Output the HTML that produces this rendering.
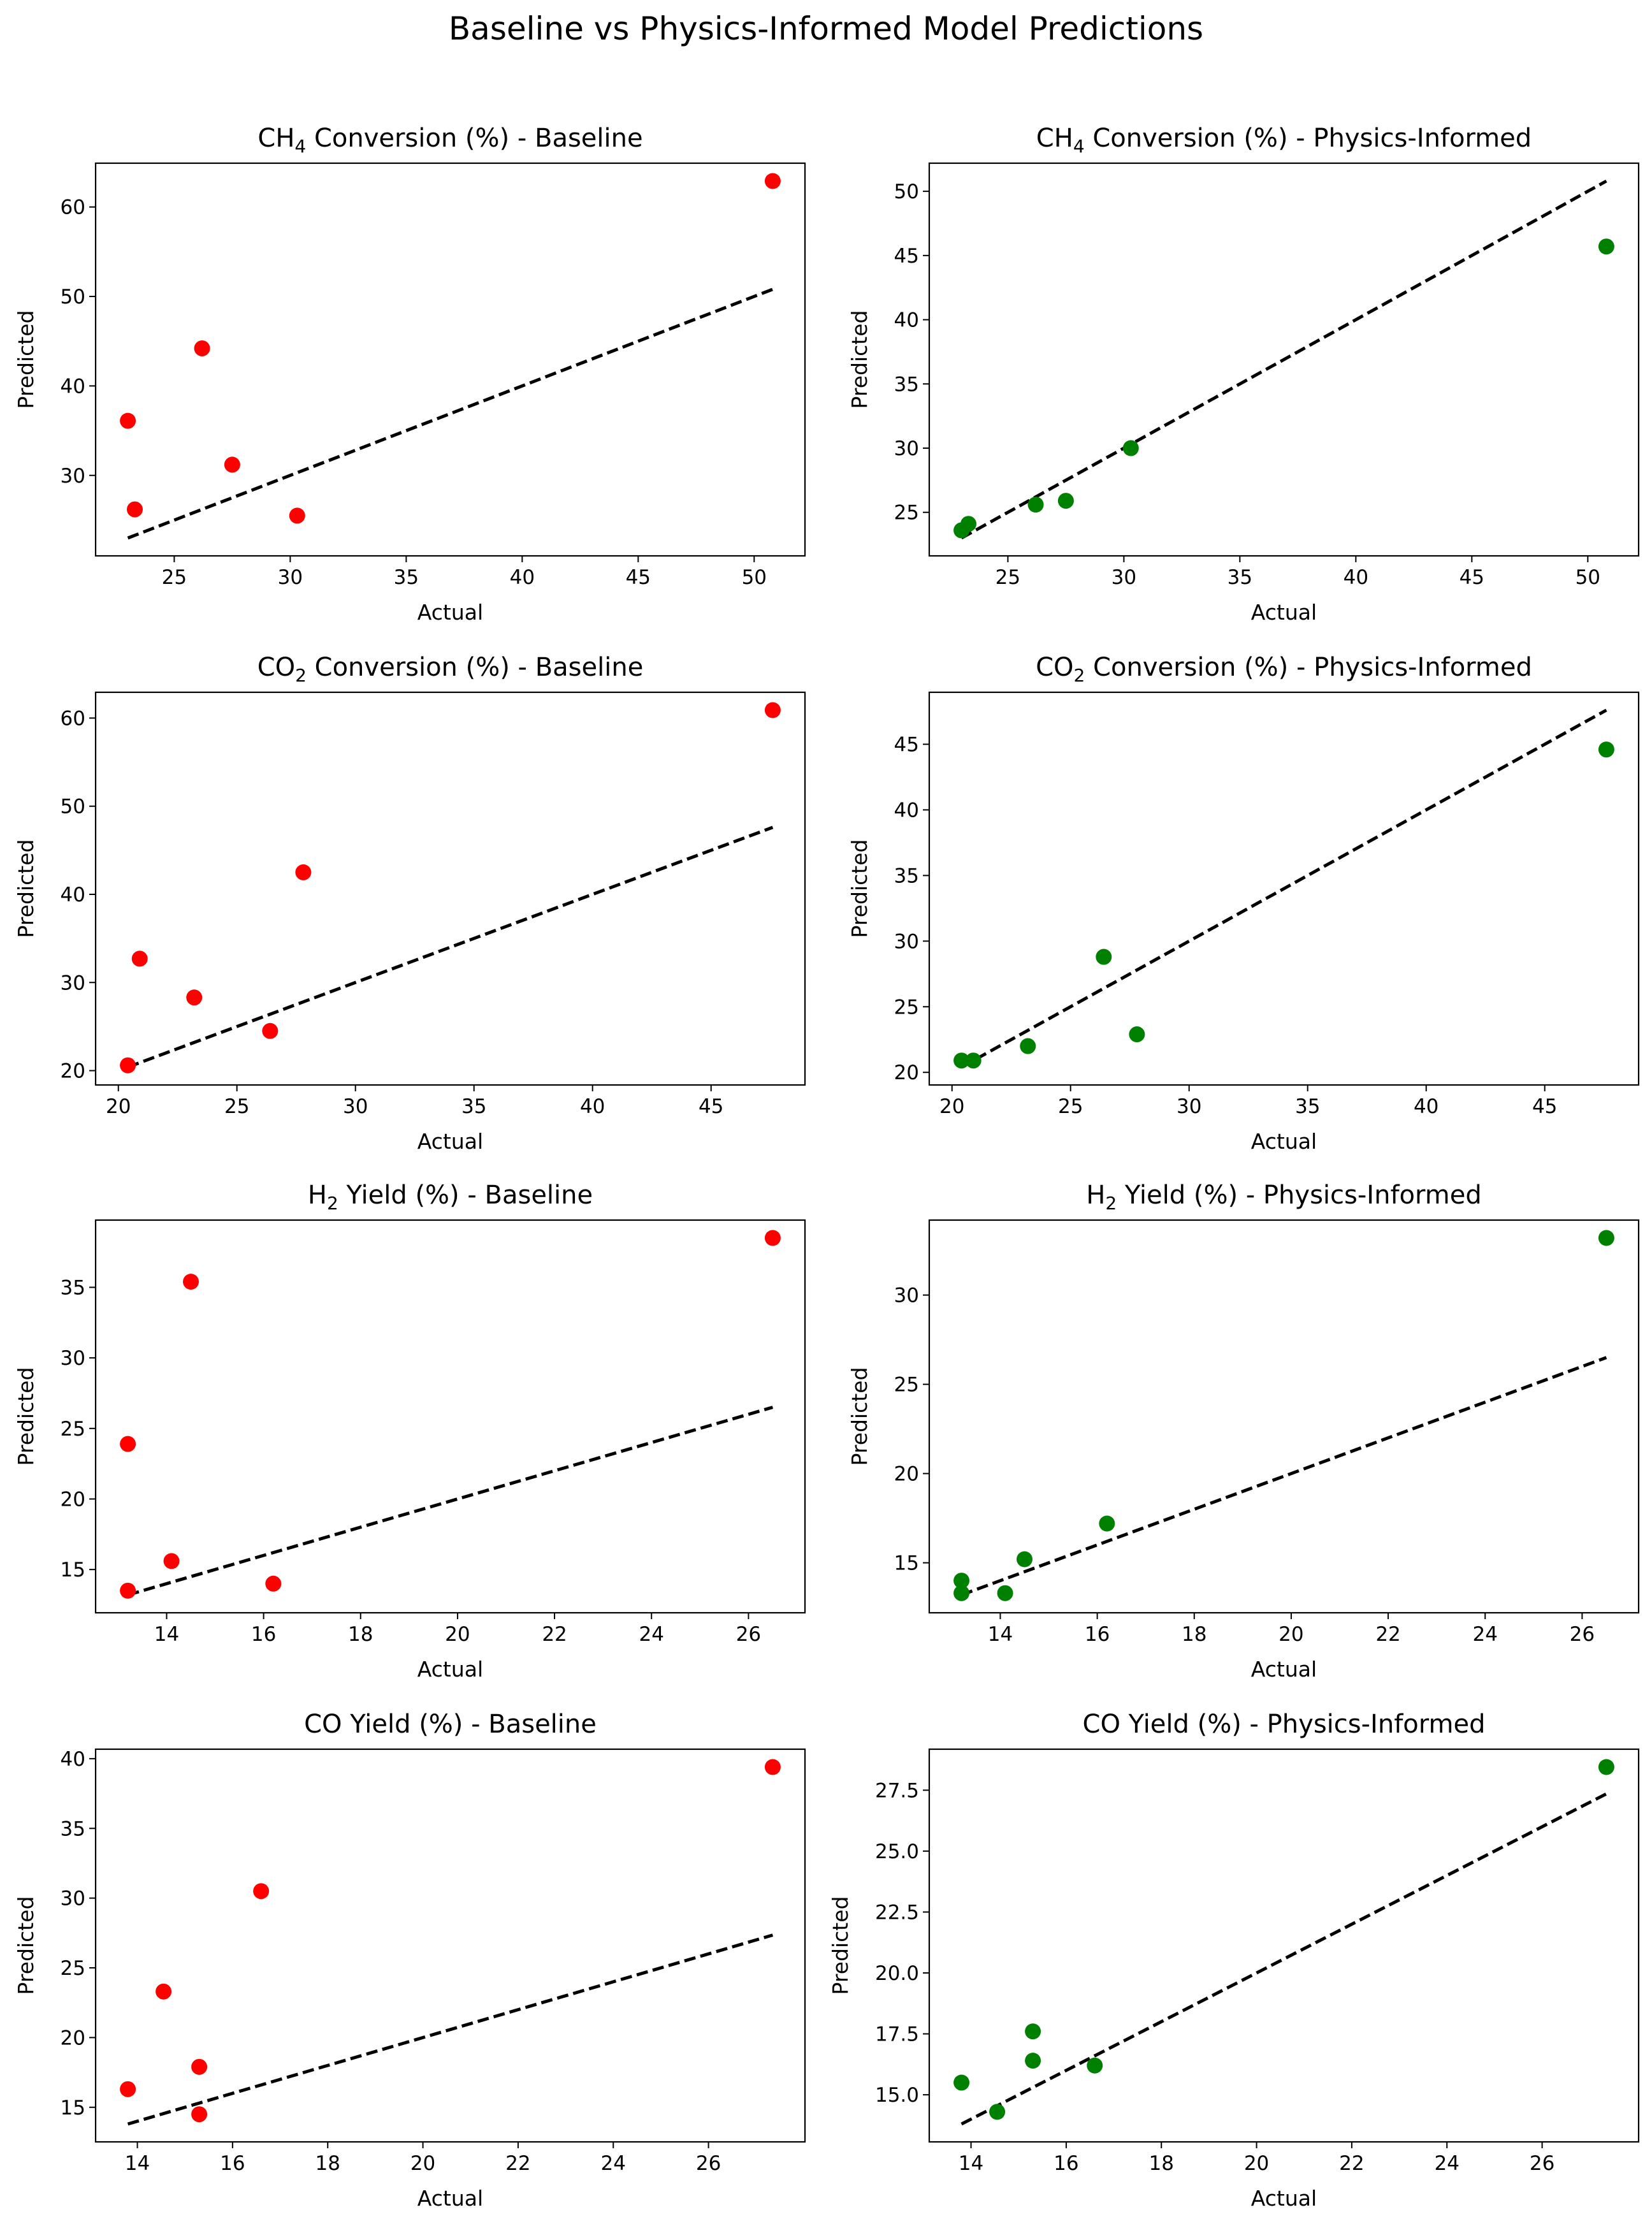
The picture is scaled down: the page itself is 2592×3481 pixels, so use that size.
<!DOCTYPE html>
<html><head><meta charset="utf-8"><style>
html,body{margin:0;padding:0;background:#fff;}
svg{display:block;font-family:"DejaVu Sans","Liberation Sans",sans-serif;}
</style></head><body>
<svg id="fig" xmlns="http://www.w3.org/2000/svg" width="2592" height="3481" viewBox="0 0 2592 3481">
<rect x="0" y="0" width="2592" height="3481" fill="#fff"/>
<text x="1296" y="62" font-size="50" text-anchor="middle" fill="#000">Baseline vs Physics-Informed Model Predictions</text>
</svg>
<script>
const actualCH4 = [23.0, 23.3, 26.2, 27.5, 30.3, 50.8];
const baseCH4 = [36.1, 26.2, 44.2, 31.2, 25.5, 62.9];
const physCH4 = [23.6, 24.1, 25.6, 25.9, 30.0, 45.7];
const actualCO2 = [20.4, 20.9, 23.2, 26.4, 27.8, 47.6];
const baseCO2 = [20.6, 32.7, 28.3, 24.5, 42.5, 60.9];
const physCO2 = [20.9, 20.9, 22.0, 28.8, 22.9, 44.6];
const actualH2 = [13.2, 13.2, 14.1, 14.5, 16.2, 26.5];
const baseH2 = [13.5, 23.9, 15.6, 35.4, 14.0, 38.5];
const physH2 = [13.3, 14.0, 13.3, 15.2, 17.2, 33.2];
const actualCO = [13.8, 14.55, 15.3, 15.3, 16.6, 27.35];
const baseCO = [16.3, 23.3, 17.9, 14.5, 30.5, 39.4];
const physCO = [15.5, 14.3, 17.6, 16.4, 16.2, 28.45];
const xTicksCH4 = [25, 30, 35, 40, 45, 50];
const xTicksCO2 = [20, 25, 30, 35, 40, 45];
const xTicksH2 = [14, 16, 18, 20, 22, 24, 26];
const xTicksCO = [14, 16, 18, 20, 22, 24, 26];
const yTicksBaseCH4 = [30, 40, 50, 60];
const yTicksPhysCH4 = [25, 30, 35, 40, 45, 50];
const yTicksBaseCO2 = [20, 30, 40, 50, 60];
const yTicksPhysCO2 = [20, 25, 30, 35, 40, 45];
const yTicksBaseH2 = [15, 20, 25, 30, 35];
const yTicksPhysH2 = [15, 20, 25, 30];
const yTicksBaseCO = [15, 20, 25, 30, 35, 40];
const yTicksPhysCO = [15.0, 17.5, 20.0, 22.5, 25.0, 27.5];

const NS = "http://www.w3.org/2000/svg";
const fig = document.getElementById('fig');
function el(tag, attrs, parent) {
  const e = document.createElementNS(NS, tag);
  for (const k in attrs) e.setAttribute(k, attrs[k]);
  (parent || fig).appendChild(e);
  return e;
}
const colX = [150, 1458], axW = 1113;
const rowY = [256, 1086, 1914, 2744], axH = 616;
const panels = [
  {r:0,c:0,sp:'CH',sub:'4',rest:' Conversion (%) - Baseline',ax:actualCH4,pr:baseCH4,xt:xTicksCH4,yt:yTicksBaseCH4,col:'#ff0000',dec:0,key:'ch4-baseline'},
  {r:0,c:1,sp:'CH',sub:'4',rest:' Conversion (%) - Physics-Informed',ax:actualCH4,pr:physCH4,xt:xTicksCH4,yt:yTicksPhysCH4,col:'#008000',dec:0,key:'ch4-physics'},
  {r:1,c:0,sp:'CO',sub:'2',rest:' Conversion (%) - Baseline',ax:actualCO2,pr:baseCO2,xt:xTicksCO2,yt:yTicksBaseCO2,col:'#ff0000',dec:0,key:'co2-baseline'},
  {r:1,c:1,sp:'CO',sub:'2',rest:' Conversion (%) - Physics-Informed',ax:actualCO2,pr:physCO2,xt:xTicksCO2,yt:yTicksPhysCO2,col:'#008000',dec:0,key:'co2-physics'},
  {r:2,c:0,sp:'H',sub:'2',rest:' Yield (%) - Baseline',ax:actualH2,pr:baseH2,xt:xTicksH2,yt:yTicksBaseH2,col:'#ff0000',dec:0,key:'h2-baseline'},
  {r:2,c:1,sp:'H',sub:'2',rest:' Yield (%) - Physics-Informed',ax:actualH2,pr:physH2,xt:xTicksH2,yt:yTicksPhysH2,col:'#008000',dec:0,key:'h2-physics'},
  {r:3,c:0,sp:'CO',sub:'',rest:' Yield (%) - Baseline',ax:actualCO,pr:baseCO,xt:xTicksCO,yt:yTicksBaseCO,col:'#ff0000',dec:0,key:'co-baseline'},
  {r:3,c:1,sp:'CO',sub:'',rest:' Yield (%) - Physics-Informed',ax:actualCO,pr:physCO,xt:xTicksCO,yt:yTicksPhysCO,col:'#008000',dec:1,key:'co-physics'}
];
panels.forEach(p => {
  const L = colX[p.c], T = rowY[p.r], R = L + axW, B = T + axH;
  const g = el('g', {});
  
  
  const xmin = Math.min(...p.ax), xmax = Math.max(...p.ax);
  const allY = p.ax.concat(p.pr);
  const ymin = Math.min(...allY), ymax = Math.max(...allY);
  const x0 = xmin - 0.05*(xmax-xmin), x1 = xmax + 0.05*(xmax-xmin);
  const y0 = ymin - 0.05*(ymax-ymin), y1 = ymax + 0.05*(ymax-ymin);
  const sx = v => L + (v - x0)/(x1 - x0)*axW;
  const sy = v => B - (v - y0)/(y1 - y0)*axH;
  // title
  const t = el('text', {x: L + axW/2, y: T - 26, 'font-size': 40, 'text-anchor': 'middle', fill: '#000'}, g);
  
  
  el('tspan', {}, t).textContent = p.sp;
  if (p.sub) { el('tspan', {'font-size': 28, dy: 9}, t).textContent = p.sub; el('tspan', {dy: -9}, t).textContent = p.rest; }
  else { el('tspan', {}, t).textContent = p.rest; }
  // ideal line
  const ln = el('line', {x1: sx(xmin), y1: sy(xmin), x2: sx(xmax), y2: sy(xmax), stroke: '#000', 'stroke-width': 5, 'stroke-dasharray': '18 8'}, g);
  
  
  // points
  p.ax.forEach((a, i) => {
    const c = el('circle', {cx: sx(a), cy: sy(p.pr[i]), r: 12.5, fill: p.col}, g);
    
    
  });
  // spines
  const fr = el('rect', {x: L, y: T, width: axW, height: axH, fill: 'none', stroke: '#000', 'stroke-width': 2.2}, g);
  
  
  p.xt.forEach(v => {
    const X = sx(v);
    el('line', {x1: X, y1: B, x2: X, y2: B + 10, stroke: '#000', 'stroke-width': 2}, g);
    const tl = el('text', {x: X, y: B + 44, 'font-size': 31, 'text-anchor': 'middle', fill: '#000'}, g);
    
    
    tl.textContent = String(v);
  });
  p.yt.forEach(v => {
    const Y = sy(v);
    el('line', {x1: L - 10, y1: Y, x2: L, y2: Y, stroke: '#000', 'stroke-width': 2}, g);
    const tl = el('text', {x: L - 16, y: Y + 11, 'font-size': 31, 'text-anchor': 'end', fill: '#000'}, g);
    
    
    tl.textContent = p.dec ? v.toFixed(1) : String(v);
  });
  const xl = el('text', {x: L + axW/2, y: B + 100, 'font-size': 33, 'text-anchor': 'middle', fill: '#000'}, g);
  
  
  xl.textContent = 'Actual';
  const ylx = p.dec ? L - 128 : L - 98;
  const yl = el('text', {x: ylx, y: T + axH/2, 'font-size': 33, 'text-anchor': 'middle', fill: '#000', transform: `rotate(-90 ${ylx} ${T + axH/2})`}, g);
  
  
  yl.textContent = 'Predicted';
});
</script>
</body></html>
